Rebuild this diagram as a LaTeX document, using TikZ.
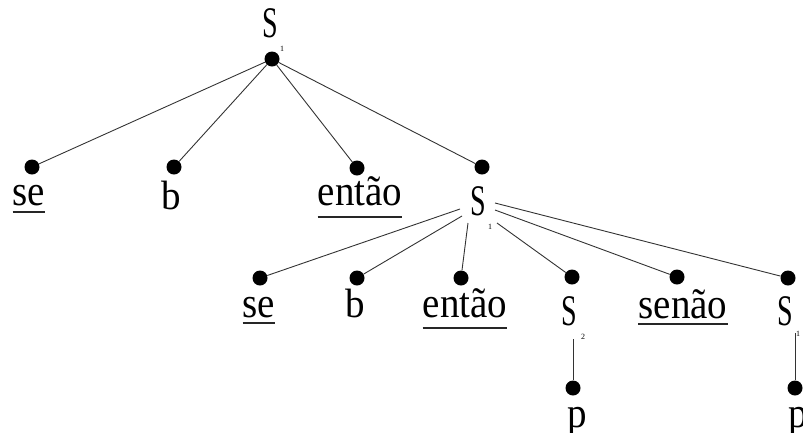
\documentclass[tikz,border=0pt]{standalone}
\usepackage{fontspec}
\setmainfont{Liberation Serif}
\begin{document}
\begin{tikzpicture}[x=1pt,y=-1pt,
  dot/.style={circle,fill=black,inner sep=0pt,minimum size=15pt},
  word/.style={inner sep=0pt,anchor=base,font=\fontsize{39}{44}\selectfont},
  sub/.style={inner sep=0pt,font=\fontsize{8}{9}\selectfont},
  edge/.style={line width=0.9pt,draw=black!80},
  ulline/.style={line width=2pt,draw=black!85}]
\useasboundingbox (0,0) rectangle (803,432);
% root
\node[word] (S0) at (270,37) {\scalebox{0.72}[1.12]{S}};
\node[sub] (S0s) at (282,49) {1};
\node[dot] (r) at (272,59) {};
% level 1 dots
\node[dot] (a1) at (32,167) {};
\node[dot] (a2) at (174,167) {};
\node[dot] (a3) at (357,168) {};
\node[dot] (a4) at (482,167) {};
\foreach \t in {a1,a2,a3,a4} \draw[edge] (r) -- (\t);
% level 1 labels
\node[word] (w1) at (29,205) {\scalebox{1}[1.1]{se}};
\node[word] (w2) at (171,209) {\scalebox{1}[1.05]{b}};
\node[word] (w3) at (360,205) {\scalebox{1}[1.1]{então}};
\node[word] (S1) at (478,215) {\scalebox{0.72}[1.12]{S}};
\node[sub] (S1s) at (490,227) {1};
\draw[ulline] ([yshift=-7pt]w1.base west) -- ([yshift=-7pt]w1.base east);
\draw[ulline] ([yshift=-12pt]w3.base west) -- ([yshift=-12pt]w3.base east);
% level 2 dots
\node[dot] (b1) at (260,278) {};
\node[dot] (b2) at (357,278) {};
\node[dot] (b3) at (461,278) {};
\node[dot] (b4) at (572,277) {};
\node[dot] (b5) at (677,277) {};
\node[dot] (b6) at (788,278) {};
% connectors from middle S
\coordinate (m1) at (460,209);
\coordinate (m2) at (462,216);
\coordinate (m3) at (468,223);
\coordinate (m4) at (497,223);
\coordinate (m5) at (495,210);
\coordinate (m6) at (495,203);
\draw[edge] (m1) -- (b1);
\draw[edge] (m2) -- (b2);
\draw[edge] (m3) -- (b3);
\draw[edge] (m4) -- (b4);
\draw[edge] (m5) -- (b5);
\draw[edge] (m6) -- (b6);
% level 2 labels
\node[word] (v1) at (259,317) {\scalebox{1}[1.1]{se}};
\node[word] (v2) at (355,317) {\scalebox{1}[1.05]{b}};
\node[word] (v3) at (465,317) {\scalebox{1}[1.1]{então}};
\node[word] (S2) at (569,325) {\scalebox{0.72}[1.12]{S}};
\node[sub] (S2s) at (583,337) {2};
\node[word] (v5) at (683,318) {\scalebox{1}[1.1]{senão}};
\node[word] (S3) at (785,325) {\scalebox{0.72}[1.12]{S}};
\node[sub] (S3s) at (798,334) {1};
\draw[ulline] ([yshift=-6pt]v1.base west) -- ([yshift=-6pt]v1.base east);
\draw[ulline] ([yshift=-11pt]v3.base west) -- ([yshift=-11pt]v3.base east);
\draw[ulline] ([yshift=-6pt]v5.base west) -- ([yshift=-6pt]v5.base east);
% level 3
\node[dot] (c1) at (573,388) {};
\node[dot] (c2) at (795,388) {};
\coordinate (t1) at (573,339);
\coordinate (t2) at (795,333);
\draw[edge] (t1) -- (c1);
\draw[edge] (t2) -- (c2);
\node[word] (p1) at (577,427) {\scalebox{1}[1.1]{p}};
\node[word] (p2) at (798,427) {\scalebox{1}[1.1]{p}};
\end{tikzpicture}
\end{document}
